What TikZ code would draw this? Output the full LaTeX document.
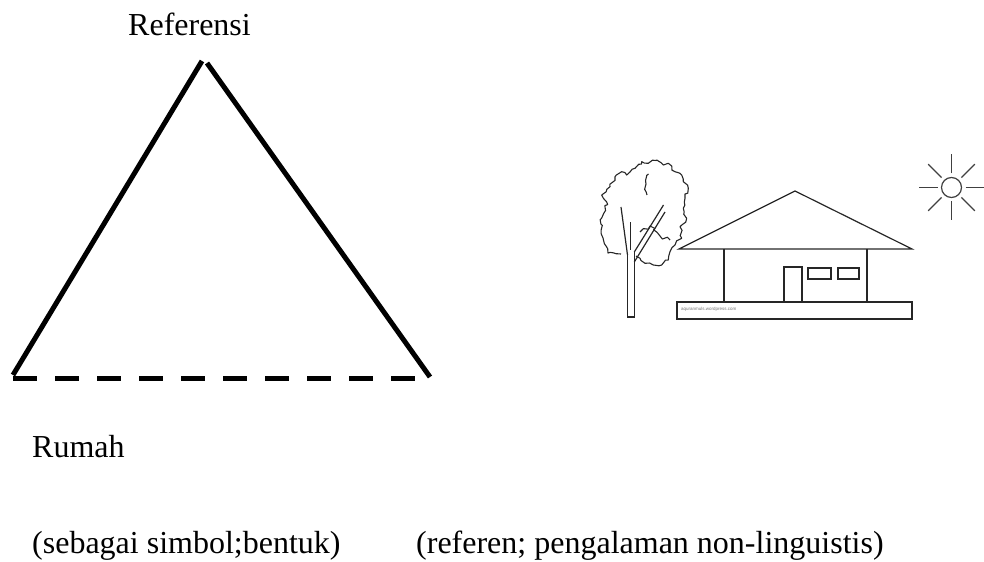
\documentclass[tikz,border=0pt]{standalone}
\usepackage{fontspec}
\setmainfont{Liberation Serif}
\newfontfamily\smallsans{Liberation Sans}
\usetikzlibrary{decorations.pathmorphing,calc}
\begin{document}
\begin{tikzpicture}[x=1bp,y=-1bp,
  label text/.style={anchor=base west,inner sep=0pt,font=\fontsize{32bp}{38bp}\selectfont},
  legline/.style={line width=5bp,black},
  baseline dash/.style={line width=5bp,black,dash pattern=on 24bp off 18bp},
  sketch/.style={line width=1.2bp,black!85},
  leafy/.style={line width=1.1bp,black!85,line join=round,decorate,
    decoration={random steps,segment length=3.6bp,amplitude=2bp}},
  ray/.style={line width=1.2bp,black!75}]
\useasboundingbox (0,0) rectangle (984,562);
\pgfmathsetseed{11}

% semiotic triangle
\node[label text] (ref) at (128,36) {Referensi};
\coordinate (leftfoot) at (13,375);
\coordinate (apexL) at (202,61);
\coordinate (apexR) at (207,63);
\coordinate (rightfoot) at (430,377);
\coordinate (baseL) at (13,378);
\coordinate (baseR) at (415,378);
\draw[legline] (leftfoot) -- (apexL);
\draw[legline] (apexR) -- (rightfoot);
\draw[baseline dash] (baseL) -- (baseR);

\node[label text] (sym) at (32,457) {Rumah};
\node[label text] (capL) at (32,553.5) {(sebagai simbol;bentuk)};
\node[label text] (capR) at (416,553.5) {(referen; pengalaman non-linguistis)};

% house
\draw[sketch,line join=miter] (679,249) -- (795,191) -- (912,249) -- cycle;
\draw[sketch] (724,249) -- (724,302);
\draw[sketch] (867,249) -- (867,302);
\draw[sketch] (677,302) rectangle (912,319);
\draw[sketch] (784,302) -- (784,267) -- (802,267) -- (802,302);
\draw[sketch] (808,268) rectangle (831,279);
\draw[sketch] (838,268) rectangle (859,279);
\node[anchor=west,inner sep=0pt,text=black!55,font=\smallsans\fontsize{4.5bp}{5bp}\selectfont]
  (mark) at (681,309.5) {aquranmuls.wordpress.com};

% tree, drawn in local coordinates around its crown
\begin{scope}[shift={(600,160)}]
  \draw[sketch] (27.5,95) -- (27.5,157) -- (34.3,157) -- (34.3,92);
  \draw[sketch] (27.5,95) -- (21,47);
  \draw[sketch] (30.5,90) -- (30.5,62);
  \draw[sketch] (34.3,92) -- (63.5,45);
  \draw[sketch] (34.3,102) -- (65,52);
  \draw[leafy] (21,94) -- (8,93) -- (3,78) -- (1.7,58) -- (6.7,42) -- (1.7,35)
    -- (10,26.7) -- (15,16.7) -- (21.7,11.7) -- (26.7,15) -- (35,8.3)
    -- (41.7,1.7) -- (48.3,3.3) -- (56.7,0) -- (63.3,5) -- (68.3,3.3)
    -- (75,11.7) -- (81.7,15) -- (83.3,21.7) -- (88.3,28.3) -- (85,38.3)
    -- (83.3,48.3) -- (86.7,58.3) -- (80,66.7) -- (81.7,78.3) -- (75,85)
    -- (70,91.7) -- (68.3,100) -- (61.7,105) -- (53.3,105) -- (45,103.3)
    -- (40,98.3) -- (36,96);
  \draw[leafy] (48.5,14) -- (46,24) -- (47,35);
  \draw[leafy] (40,72) -- (50,66) -- (60,76) -- (70,80);
\end{scope}

% sun
\coordinate (sun) at (951.5,187.5);
\draw[ray] (sun) circle[radius=10];
\foreach \a in {0,45,...,315}
  \draw[ray] ($(sun)+(\a:14)$) -- ($(sun)+(\a:33)$);
\end{tikzpicture}
\end{document}
